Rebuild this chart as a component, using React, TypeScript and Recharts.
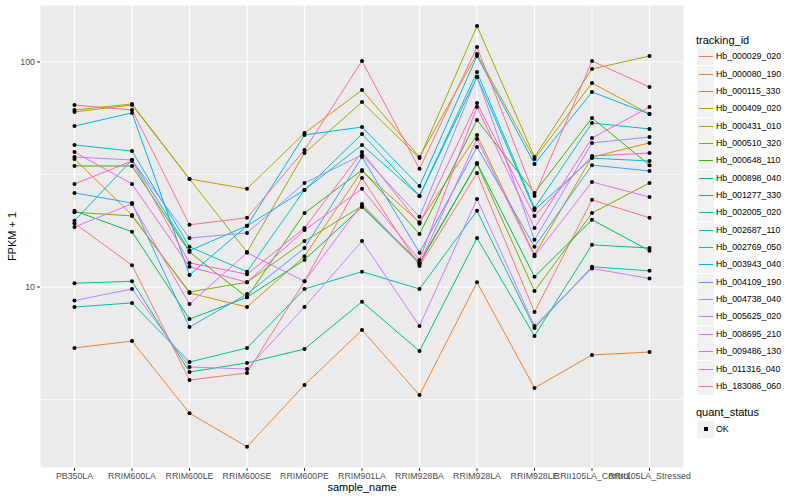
import React from 'react';
import { LineChart, Line, XAxis, YAxis, CartesianGrid, ReferenceLine } from 'recharts';

const categories = ['PB350LA', 'RRIM600LA', 'RRIM600LE', 'RRIM600SE', 'RRIM600PE', 'RRIM901LA', 'RRIM928BA', 'RRIM928LA', 'RRIM928LE', 'RRII105LA_Control', 'RRII105LA_Stressed'];

const trackingIds = ['Hb_000029_020', 'Hb_000080_190', 'Hb_000115_330', 'Hb_000409_020', 'Hb_000431_010', 'Hb_000510_320', 'Hb_000648_110', 'Hb_000898_040', 'Hb_001277_330', 'Hb_002005_020', 'Hb_002687_110', 'Hb_002769_050', 'Hb_003943_040', 'Hb_004109_190', 'Hb_004738_040', 'Hb_005625_020', 'Hb_008695_210', 'Hb_009486_130', 'Hb_011316_040', 'Hb_183086_060'];

const colors = ['#F8766D', '#EA8331', '#D89000', '#C09B00', '#A3A500', '#7CAE00', '#39B600', '#00BB4E', '#00BF7D', '#00C1A3', '#00BFC4', '#00BAE0', '#00B0F6', '#35A2FF', '#9590FF', '#C77CFF', '#E76BF3', '#FA62DB', '#FF62BC', '#FF6C91'];

const hb000029 = [19.2, 12.5, 3.86, 4.15, 10.6, 30.5, 12.4, 32.1, 7.74, 24.4, 20.3];
const hb000080 = [5.36, 5.75, 2.75, 1.95, 3.67, 6.44, 3.31, 10.5, 3.56, 4.99, 5.14];
const hb000115 = [37.1, 20.9, 9.4, 8.15, 13.7, 32.8, 19.4, 47.4, 13.9, 37.8, 43.7];
const hb000409 = [61.2, 65.1, 30.2, 27.3, 48.3, 75.1, 37.8, 108.5, 37.1, 80.7, 58.7];
const hb000431 = [60.0, 64.4, 30.2, 14.3, 39.4, 66.4, 37.4, 144.5, 37.8, 93.1, 106.3];
const hb000510 = [21.5, 20.7, 9.5, 10.5, 16.0, 22.9, 12.9, 35.2, 9.6, 21.3, 29.0];
const hb000648 = [34.5, 34.5, 14.3, 9.0, 21.3, 33.1, 17.2, 55.2, 26.2, 56.4, 34.8];
const hb000898 = [21.8, 17.6, 7.2, 9.0, 13.2, 22.7, 12.7, 35.6, 11.1, 19.9, 14.5];
const hb001277 = [10.4, 10.6, 4.19, 4.6, 5.3, 8.6, 5.19, 16.5, 6.06, 15.4, 14.9];
const hb002005 = [8.15, 8.5, 4.64, 5.36, 9.8, 11.7, 9.8, 21.8, 6.57, 12.3, 11.8];
const hb002687 = [42.8, 40.2, 15.1, 11.7, 27.0, 47.9, 25.4, 90.3, 22.4, 53.6, 50.4];
const hb002769 = [19.7, 36.7, 14.5, 18.7, 27.0, 42.8, 25.4, 85.8, 22.0, 37.4, 36.3];
const hb003943 = [51.9, 59.4, 11.3, 18.7, 47.4, 51.4, 28.1, 106.3, 35.2, 73.6, 58.7];
const hb004109 = [26.2, 23.6, 6.64, 9.3, 14.9, 37.8, 14.2, 41.9, 15.1, 34.8, 32.8];
const hb004738 = [37.8, 36.7, 16.5, 17.4, 29.0, 38.6, 20.5, 85.8, 16.2, 43.7, 46.4];
const hb005625 = [8.7, 9.8, 4.41, 4.32, 8.15, 16.0, 6.71, 24.6, 6.71, 12.1, 10.9];
const hb008695 = [18.5, 23.4, 8.4, 14.2, 10.6, 23.4, 12.7, 45.5, 13.7, 29.3, 25.1];
const hb009486 = [39.8, 28.7, 12.3, 10.5, 17.9, 27.3, 13.2, 63.1, 18.3, 45.9, 63.1];
const hb011316 = [28.7, 36.3, 12.8, 11.4, 18.3, 39.8, 19.1, 65.7, 20.7, 38.2, 39.4];
const hb183086 = [64.4, 61.2, 18.9, 20.3, 40.6, 101, 33.5, 116.6, 25.4, 101, 77.4];

const seriesValues = [hb000029, hb000080, hb000115, hb000409, hb000431, hb000510, hb000648, hb000898, hb001277, hb002005, hb002687, hb002769, hb003943, hb004109, hb004738, hb005625, hb008695, hb009486, hb011316, hb183086];

const yTicks = [10, 100];
const yMinor = [3.1623, 31.623];

const data = categories.map((c, i) => {
  const row: Record<string, any> = { sample_name: c };
  seriesValues.forEach((arr, j) => {
    row[trackingIds[j]] = arr[i];
  });
  return row;
});

const FONT = '"Liberation Sans", Arial, Helvetica, sans-serif';

export default function App() {
  const legendTop = 56.7;
  const legendStep = 17.35;
  return (
    <div style={{ position: 'absolute', left: 0, top: 0, width: 800, height: 500, background: '#fff', fontFamily: FONT }}>
      <LineChart width={800} height={500} data={data} margin={{ top: 5, right: 116, bottom: 0, left: 0 }}>
        <CartesianGrid fill="#EBEBEB" stroke="#FFFFFF" strokeWidth={1.2} />
        {yMinor.map((v) => (
          <ReferenceLine key={v} y={v} stroke="#FFFFFF" strokeWidth={0.6} />
        ))}
        <XAxis
          dataKey="sample_name"
          interval={0}
          padding={{ left: 34.5, right: 34.5 }}
          axisLine={false}
          tickLine={{ stroke: '#333333' }}
          tickSize={3}
          tickMargin={2}
          height={32}
          tick={{ fontSize: 8.8, fill: '#4D4D4D', fontFamily: FONT }}
          label={() => (
            <text x={362} y={488} textAnchor="middle" dominantBaseline="middle" fontSize={11} fill="#000" fontFamily={FONT}>
              sample_name
            </text>
          )}
        />
        <YAxis
          type="number"
          scale="log"
          domain={[1.569, 179.2]}
          allowDataOverflow
          ticks={yTicks}
          width={40}
          axisLine={false}
          tickLine={{ stroke: '#333333' }}
          tickSize={3}
          tickMargin={2}
          tick={{ fontSize: 8.8, fill: '#4D4D4D', fontFamily: FONT }}
          tickFormatter={(v: number) => String(v)}
          label={() => (
            <text x={13} y={236.5} transform="rotate(-90 13 236.5)" textAnchor="middle" dominantBaseline="middle" fontSize={11} fill="#000" fontFamily={FONT}>
              FPKM + 1
            </text>
          )}
        />
        {trackingIds.map((id, j) => (
          <Line
            key={id}
            type="linear"
            dataKey={id}
            stroke={colors[j]}
            strokeWidth={1}
            dot={false}
            activeDot={false}
            isAnimationActive={false}
          />
        ))}
        {trackingIds.map((id) => (
          <Line
            key={id + '_pts'}
            type="linear"
            dataKey={id}
            stroke="none"
            dot={{ r: 2, fill: '#000000', stroke: 'none' }}
            activeDot={false}
            legendType="none"
            isAnimationActive={false}
          />
        ))}
      </LineChart>
      <div style={{ position: 'absolute', left: 696, top: 40 - 8.5, height: 17, lineHeight: '17px', fontSize: 11, color: '#000', whiteSpace: 'nowrap' }}>
        tracking_id
      </div>
      {trackingIds.map((id, j) => {
        const cy = legendTop + j * legendStep;
        return (
          <React.Fragment key={id}>
            <div style={{ position: 'absolute', left: 697, top: cy - 8.5, width: 17, height: 17, background: '#F2F2F2' }}>
              <div style={{ position: 'absolute', left: 1.5, top: 8, width: 14, height: 1, background: colors[j] }} />
            </div>
            <div style={{ position: 'absolute', left: 716, top: cy - 8.5, height: 17, lineHeight: '17px', fontSize: 8.8, color: '#000', whiteSpace: 'nowrap' }}>
              {id}
            </div>
          </React.Fragment>
        );
      })}
      <div style={{ position: 'absolute', left: 696, top: 412 - 8.5, height: 17, lineHeight: '17px', fontSize: 11, color: '#000', whiteSpace: 'nowrap' }}>
        quant_status
      </div>
      <div style={{ position: 'absolute', left: 697, top: 429 - 8.5, width: 17, height: 17, background: '#F2F2F2' }}>
        <div style={{ position: 'absolute', left: 6.5, top: 6.5, width: 4, height: 4, background: '#000' }} />
      </div>
      <div style={{ position: 'absolute', left: 716, top: 429 - 8.5, height: 17, lineHeight: '17px', fontSize: 8.8, color: '#000', whiteSpace: 'nowrap' }}>
        OK
      </div>
    </div>
  );
}
